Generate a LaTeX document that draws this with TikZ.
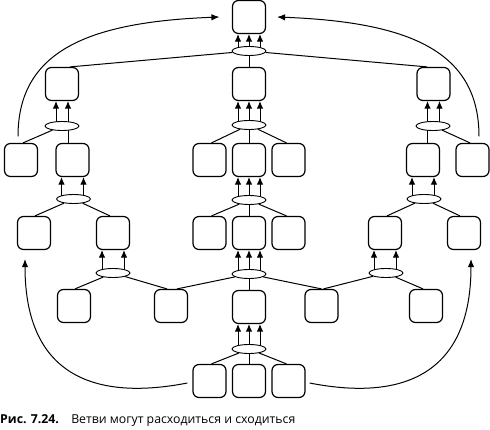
\documentclass[tikz,border=0pt]{standalone}
\usepackage{fontspec}
\setmainfont{Open Sans}
\usetikzlibrary{shapes.geometric,arrows.meta,backgrounds}
\begin{document}
\begin{tikzpicture}[x=1pt,y=-1pt,
  box/.style={draw,line width=1.2pt,rounded corners=6pt,minimum width=33pt,minimum height=33pt,inner sep=0pt,fill=white},
  ell/.style={draw,ellipse,line width=0.9pt,minimum width=34pt,minimum height=9pt,inner sep=0pt,fill=white},
  con/.style={line width=1pt},
  arr/.style={line width=1pt,-{Latex[length=7.5pt,width=6.5pt]}},
  curv/.style={line width=1pt,-{Latex[length=8pt,width=6.5pt]}}]
\useasboundingbox (0,0) rectangle (490,430);

% centre column
\node[box] (T) at (249,17) {};
\node[ell] (E1) at (249,51) {};
\node[box] (C1) at (249,84) {};
\node[ell] (E2) at (249,125) {};
\node[box] (R1L) at (209.5,160) {};
\node[box] (R1M) at (249,160) {};
\node[box] (R1R) at (288.5,160) {};
\node[ell] (E3) at (249,200) {};
\node[box] (R2L) at (209.5,233) {};
\node[box] (R2M) at (249,233) {};
\node[box] (R2R) at (288.5,233) {};
\node[ell] (E4) at (249,274) {};
\node[box] (C2) at (249,307) {};
\node[ell] (E5) at (249,349) {};
\node[box] (R3L) at (209.5,381) {};
\node[box] (R3M) at (249,381) {};
\node[box] (R3R) at (288.5,381) {};

% left branch
\node[box] (L1) at (62,84) {};
\node[ell] (LE1) at (62,126) {};
\node[box] (L2a) at (21,160) {};
\node[box] (L2b) at (72.5,160) {};
\node[ell] (LE2) at (73.5,199) {};
\node[box] (L3a) at (34,233) {};
\node[box] (L3b) at (113,233) {};
\node[ell] (LE3) at (113,273) {};
\node[box] (L4a) at (74,306) {};
\node[box] (L4b) at (171,306) {};

% right branch
\node[box] (Q1) at (433.5,84) {};
\node[ell] (QE1) at (433,126) {};
\node[box] (Q2a) at (423,160) {};
\node[box] (Q2b) at (472.5,160) {};
\node[ell] (QE2) at (424,199) {};
\node[box] (Q3a) at (385,233) {};
\node[box] (Q3b) at (464,233) {};
\node[ell] (QE3) at (386,273) {};
\node[box] (Q4a) at (321.5,306) {};
\node[box] (Q4b) at (426,306) {};

\begin{pgfonlayer}{background}
% three-arrow bundles in the centre
\foreach \e/\b in {E1/T,E2/C1,E3/R1M,E4/R2M,E5/C2}{
  \foreach \d in {-11,0,11}{
    \draw[arr] ([xshift=\d pt]\e.center) -- ([xshift=\d pt]\e.center |- \b.south);
  }
}
% two-arrow bundles on the sides
\foreach \e/\b in {LE1/L1,QE1/Q1}{
  \foreach \d in {-6,6}{
    \draw[arr] ([xshift=\d pt]\b.south |- \e.center) -- ([xshift=\d pt]\b.south);
  }
}
\foreach \e/\b in {LE2/L2b,QE2/Q2a,LE3/L3b,QE3/Q3a}{
  \foreach \d in {-11,11}{
    \draw[arr] ([xshift=\d pt]\b.south |- \e.center) -- ([xshift=\d pt]\b.south);
  }
}
% vertical links through the side ellipses
\draw[con] ([xshift=6pt]L1.south |- LE1.center) -- ([xshift=6pt]L1.south |- L2b.north);
\draw[con] ([xshift=-6pt]Q1.south |- QE1.center) -- ([xshift=-6pt]Q1.south |- Q2a.north);
\end{pgfonlayer}

% centre vertical links
\draw[con] (E1) -- (C1);
\draw[con] (E2) -- (R1M);
\draw[con] (E3) -- (R2M);
\draw[con] (E4) -- (C2);
\draw[con] (E5) -- (R3M);

% centre diagonals
\draw[con] (E2) -- ([xshift=2pt]R1L.north);
\draw[con] (E2) -- ([xshift=-2pt]R1R.north);
\draw[con] (E3) -- ([xshift=2pt]R2L.north);
\draw[con] (E3) -- ([xshift=-2pt]R2R.north);
\draw[con] (E5) -- ([xshift=2pt]R3L.north);
\draw[con] (E5) -- ([xshift=-2pt]R3R.north);
\draw[con] (E4) -- ([xshift=6pt]L4b.north);
\draw[con] (E4) -- ([xshift=0pt]Q4a.north);

% links to the top ellipse
\draw[con] (E1) -- ([xshift=8pt]L1.north);
\draw[con] (E1) -- ([xshift=-6.5pt]Q1.north);

% side diagonals
\draw[con] (LE1) -- ([xshift=2pt]L2a.north);
\draw[con] (QE1) -- ([xshift=-2.5pt]Q2b.north);
\draw[con] (LE2) -- ([xshift=1pt]L3a.north);
\draw[con] (LE2) -- ([xshift=-3pt]L3b.north);
\draw[con] (QE2) -- ([xshift=2pt]Q3a.north);
\draw[con] (QE2) -- ([xshift=-4pt]Q3b.north);
\draw[con] (LE3) -- ([xshift=1pt]L4a.north);
\draw[con] (LE3) -- ([xshift=-4pt]L4b.north);
\draw[con] (QE3) -- ([xshift=2pt]Q4a.north);
\draw[con] (QE3) -- ([xshift=-3pt]Q4b.north);

% long curved arrows
\draw[curv] ([shift={(-3,-6.5)}]L2a.north) .. controls (18,50) and (90,22) .. ([xshift=-12.5pt]T.west);
\draw[curv] ([shift={(6.5,-6.5)}]Q2b.north) .. controls (479,50) and (407,22) .. ([xshift=11pt]T.east);
\draw[curv] ([shift={(-5,2)}]R3L.west) .. controls (100,400) and (25,380) .. ([shift={(-9,9)}]L3a.south);
\draw[curv] ([shift={(4,2)}]R3R.east) .. controls (396,400) and (471,380) .. ([shift={(7,9)}]Q3b.south);

% caption
\node[anchor=base west,inner sep=0pt,font=\fontsize{12.3}{14}\selectfont] (cap) at (0,423)
  {\textbf{Рис. 7.24.}\hspace{1em}Ветви могут расходиться и сходиться};
\end{tikzpicture}
\end{document}
